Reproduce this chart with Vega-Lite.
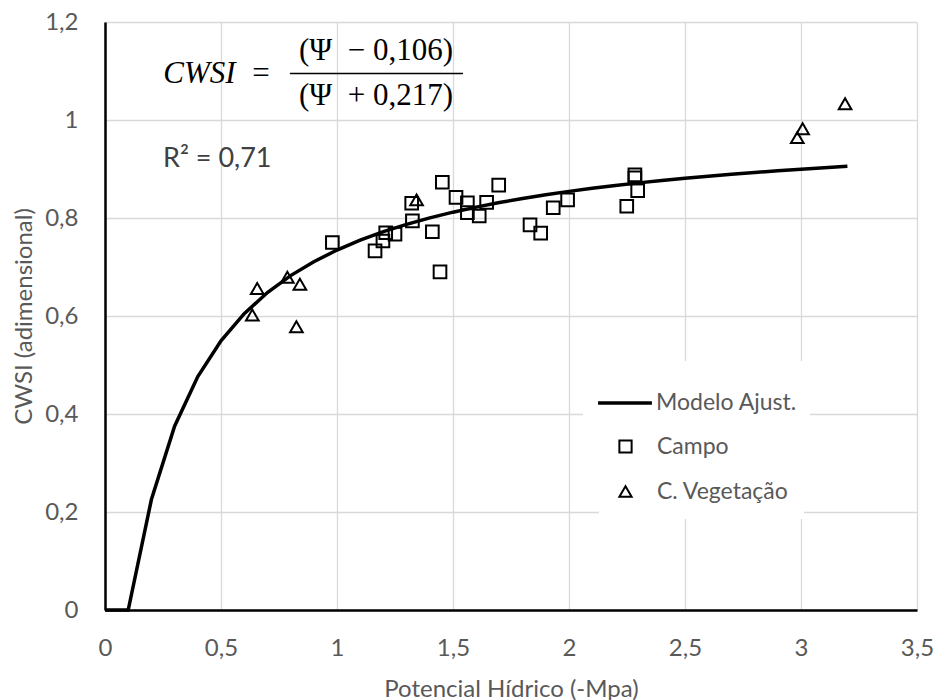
{
  "$schema": "https://vega.github.io/schema/vega-lite/v6.json",
  "width": 812,
  "height": 588,
  "autosize": "none",
  "padding": {"left": 105, "top": 22, "right": 18, "bottom": 90},
  "background": "white",
  "config": {"view": {"stroke": null}, "font": "Lato"},
  "datasets": {
    "modelo": [
      {"serie": "Modelo Ajust.", "psi": 0, "cwsi": 0},
      {"serie": "Modelo Ajust.", "psi": 0.1, "cwsi": 0},
      {"serie": "Modelo Ajust.", "psi": 0.2, "cwsi": 0.2254},
      {"serie": "Modelo Ajust.", "psi": 0.3, "cwsi": 0.3752},
      {"serie": "Modelo Ajust.", "psi": 0.4, "cwsi": 0.4765},
      {"serie": "Modelo Ajust.", "psi": 0.5, "cwsi": 0.5495},
      {"serie": "Modelo Ajust.", "psi": 0.6, "cwsi": 0.6047},
      {"serie": "Modelo Ajust.", "psi": 0.7, "cwsi": 0.6478},
      {"serie": "Modelo Ajust.", "psi": 0.8, "cwsi": 0.6824},
      {"serie": "Modelo Ajust.", "psi": 0.9, "cwsi": 0.7108},
      {"serie": "Modelo Ajust.", "psi": 1.0, "cwsi": 0.7346},
      {"serie": "Modelo Ajust.", "psi": 1.1, "cwsi": 0.7547},
      {"serie": "Modelo Ajust.", "psi": 1.2, "cwsi": 0.7721},
      {"serie": "Modelo Ajust.", "psi": 1.3, "cwsi": 0.7871},
      {"serie": "Modelo Ajust.", "psi": 1.4, "cwsi": 0.8003},
      {"serie": "Modelo Ajust.", "psi": 1.5, "cwsi": 0.8119},
      {"serie": "Modelo Ajust.", "psi": 1.6, "cwsi": 0.8222},
      {"serie": "Modelo Ajust.", "psi": 1.7, "cwsi": 0.8315},
      {"serie": "Modelo Ajust.", "psi": 1.8, "cwsi": 0.8399},
      {"serie": "Modelo Ajust.", "psi": 1.9, "cwsi": 0.8474},
      {"serie": "Modelo Ajust.", "psi": 2.0, "cwsi": 0.8543},
      {"serie": "Modelo Ajust.", "psi": 2.1, "cwsi": 0.8606},
      {"serie": "Modelo Ajust.", "psi": 2.2, "cwsi": 0.8664},
      {"serie": "Modelo Ajust.", "psi": 2.3, "cwsi": 0.8717},
      {"serie": "Modelo Ajust.", "psi": 2.4, "cwsi": 0.8766},
      {"serie": "Modelo Ajust.", "psi": 2.5, "cwsi": 0.8811},
      {"serie": "Modelo Ajust.", "psi": 2.6, "cwsi": 0.8853},
      {"serie": "Modelo Ajust.", "psi": 2.7, "cwsi": 0.8893},
      {"serie": "Modelo Ajust.", "psi": 2.8, "cwsi": 0.8929},
      {"serie": "Modelo Ajust.", "psi": 2.9, "cwsi": 0.8964},
      {"serie": "Modelo Ajust.", "psi": 3.0, "cwsi": 0.8996},
      {"serie": "Modelo Ajust.", "psi": 3.1, "cwsi": 0.9026},
      {"serie": "Modelo Ajust.", "psi": 3.2, "cwsi": 0.9055}
    ],
    "pontos": [
      {"serie": "Campo", "psi": 0.98, "cwsi": 0.750},
      {"serie": "Campo", "psi": 1.164, "cwsi": 0.733},
      {"serie": "Campo", "psi": 1.198, "cwsi": 0.753},
      {"serie": "Campo", "psi": 1.210, "cwsi": 0.770},
      {"serie": "Campo", "psi": 1.250, "cwsi": 0.767},
      {"serie": "Campo", "psi": 1.325, "cwsi": 0.794},
      {"serie": "Campo", "psi": 1.322, "cwsi": 0.830},
      {"serie": "Campo", "psi": 1.411, "cwsi": 0.772},
      {"serie": "Campo", "psi": 1.444, "cwsi": 0.690},
      {"serie": "Campo", "psi": 1.454, "cwsi": 0.873},
      {"serie": "Campo", "psi": 1.513, "cwsi": 0.842},
      {"serie": "Campo", "psi": 1.562, "cwsi": 0.831},
      {"serie": "Campo", "psi": 1.562, "cwsi": 0.811},
      {"serie": "Campo", "psi": 1.613, "cwsi": 0.804},
      {"serie": "Campo", "psi": 1.645, "cwsi": 0.832},
      {"serie": "Campo", "psi": 1.697, "cwsi": 0.867},
      {"serie": "Campo", "psi": 1.832, "cwsi": 0.786},
      {"serie": "Campo", "psi": 1.878, "cwsi": 0.769},
      {"serie": "Campo", "psi": 1.932, "cwsi": 0.821},
      {"serie": "Campo", "psi": 1.994, "cwsi": 0.837},
      {"serie": "Campo", "psi": 2.249, "cwsi": 0.824},
      {"serie": "Campo", "psi": 2.284, "cwsi": 0.888},
      {"serie": "Campo", "psi": 2.284, "cwsi": 0.882},
      {"serie": "Campo", "psi": 2.296, "cwsi": 0.856},
      {"serie": "C. Vegetação", "psi": 0.635, "cwsi": 0.602},
      {"serie": "C. Vegetação", "psi": 0.656, "cwsi": 0.656},
      {"serie": "C. Vegetação", "psi": 0.786, "cwsi": 0.679},
      {"serie": "C. Vegetação", "psi": 0.840, "cwsi": 0.665},
      {"serie": "C. Vegetação", "psi": 0.825, "cwsi": 0.578},
      {"serie": "C. Vegetação", "psi": 1.343, "cwsi": 0.837},
      {"serie": "C. Vegetação", "psi": 2.984, "cwsi": 0.964},
      {"serie": "C. Vegetação", "psi": 3.007, "cwsi": 0.982},
      {"serie": "C. Vegetação", "psi": 3.190, "cwsi": 1.033}
    ]
  },
  "layer": [
    {
      "data": {"name": "modelo"},
      "mark": {"type": "line", "strokeWidth": 3.5},
      "encoding": {
        "x": {
          "field": "psi",
          "type": "quantitative",
          "scale": {"domain": [0, 3.5], "nice": false, "zero": false},
          "axis": {
            "title": "Potencial Hídrico (-Mpa)",
            "values": [0, 0.5, 1, 1.5, 2, 2.5, 3, 3.5],
            "labelExpr": "replace(format(datum.value, '~g'), '.', ',')",
            "grid": true,
            "gridColor": "#d9d9d9",
            "gridWidth": 1.3,
            "domainColor": "black",
            "domainWidth": 2.5,
            "ticks": false,
            "tickSize": 0,
            "labelFlush": false,
            "labelOverlap": false,
            "labelFont": "Lato",
            "labelFontSize": 24,
            "labelColor": "#595959",
            "labelPadding": 45,
            "labelBaseline": "alphabetic",
            "titleFont": "Lato",
            "titleFontSize": 24,
            "titleFontWeight": "normal",
            "titleColor": "#595959",
            "titleY": 86,
            "titleBaseline": "alphabetic"
          }
        },
        "y": {
          "field": "cwsi",
          "type": "quantitative",
          "scale": {"domain": [0, 1.2], "nice": false, "zero": false},
          "axis": {
            "title": "CWSI (adimensional)",
            "values": [0, 0.2, 0.4, 0.6, 0.8, 1, 1.2],
            "labelExpr": "replace(format(datum.value, '~g'), '.', ',')",
            "grid": true,
            "gridColor": "#d9d9d9",
            "gridWidth": 1.3,
            "domainColor": "black",
            "domainWidth": 2.5,
            "ticks": false,
            "tickSize": 0,
            "labelFlush": false,
            "labelOverlap": false,
            "labelFont": "Lato",
            "labelFontSize": 24,
            "labelColor": "#595959",
            "labelPadding": 27,
            "titleFont": "Lato",
            "titleFontSize": 24,
            "titleFontWeight": "normal",
            "titleColor": "#595959",
            "titleX": -74,
            "titleY": 294,
            "titleAngle": -90,
            "titleAlign": "center",
            "titleBaseline": "alphabetic"
          }
        },
        "color": {
          "field": "serie",
          "type": "nominal",
          "scale": {"domain": ["Modelo Ajust."], "range": ["black"]},
          "legend": {
            "title": null,
            "orient": "none",
            "legendX": 478,
            "legendY": 339,
            "fillColor": "white",
            "padding": 13,
            "symbolType": "stroke",
            "symbolSize": 2900,
            "symbolStrokeWidth": 3.5,
            "symbolStrokeColor": "black",
            "labelFont": "Lato",
            "labelFontSize": 23,
            "labelColor": "#595959",
            "labelOffset": 2,
            "labelLimit": 300
          }
        }
      }
    },
    {
      "data": {"name": "pontos"},
      "mark": {"type": "point", "filled": false, "color": "black", "strokeWidth": 2, "size": 160, "opacity": 1},
      "encoding": {
        "x": {"field": "psi", "type": "quantitative"},
        "y": {"field": "cwsi", "type": "quantitative"},
        "shape": {
          "field": "serie",
          "type": "nominal",
          "scale": {
            "domain": ["Campo", "C. Vegetação"],
            "range": ["square", "triangle-up"]
          },
          "legend": {
            "title": null,
            "orient": "none",
            "legendX": 494,
            "legendY": 398,
            "direction": "vertical",
            "fillColor": "white",
            "padding": 15,
            "symbolSize": 150,
            "symbolStrokeColor": "black",
            "symbolStrokeWidth": 2,
            "symbolFillColor": "transparent",
            "symbolOpacity": 1,
            "labelFont": "Lato",
            "labelFontSize": 23,
            "labelColor": "#595959",
            "labelOffset": 20,
            "labelLimit": 300,
            "rowPadding": 21
          }
        }
      }
    },
    {
      "data": {"values": [{}]},
      "mark": {"type": "text", "text": "CWSI", "font": "Liberation Serif", "fontStyle": "italic", "fontSize": 31, "align": "center", "baseline": "alphabetic", "color": "black"},
      "encoding": {
        "x": {"datum": 0.407, "type": "quantitative"},
        "y": {"datum": 1.0748, "type": "quantitative"}
      }
    },
    {
      "data": {"values": [{}]},
      "mark": {"type": "text", "text": "=", "font": "Liberation Serif", "fontSize": 31, "align": "center", "baseline": "alphabetic", "color": "black"},
      "encoding": {
        "x": {"datum": 0.672, "type": "quantitative"},
        "y": {"datum": 1.0748, "type": "quantitative"}
      }
    },
    {
      "data": {"values": [{}]},
      "mark": {"type": "text", "text": "(Ψ\u2002− 0,106)", "font": "Liberation Serif", "fontSize": 31, "align": "center", "baseline": "alphabetic", "color": "black"},
      "encoding": {
        "x": {"datum": 1.168, "type": "quantitative"},
        "y": {"datum": 1.1224, "type": "quantitative"}
      }
    },
    {
      "data": {"values": [{}]},
      "mark": {"type": "rule", "color": "black", "strokeWidth": 1.5},
      "encoding": {
        "x": {"datum": 0.797, "type": "quantitative"},
        "x2": {"datum": 1.543},
        "y": {"datum": 1.095, "type": "quantitative"}
      }
    },
    {
      "data": {"values": [{}]},
      "mark": {"type": "text", "text": "(Ψ\u2002+ 0,217)", "font": "Liberation Serif", "fontSize": 31, "align": "center", "baseline": "alphabetic", "color": "black"},
      "encoding": {
        "x": {"datum": 1.168, "type": "quantitative"},
        "y": {"datum": 1.0306, "type": "quantitative"}
      }
    },
    {
      "data": {"values": [{}]},
      "mark": {"type": "text", "text": "R² = 0,71", "font": "Lato", "fontSize": 27, "align": "left", "baseline": "alphabetic", "color": "#404040"},
      "encoding": {
        "x": {"datum": 0.25, "type": "quantitative"},
        "y": {"datum": 0.9047, "type": "quantitative"}
      }
    }
  ]
}
